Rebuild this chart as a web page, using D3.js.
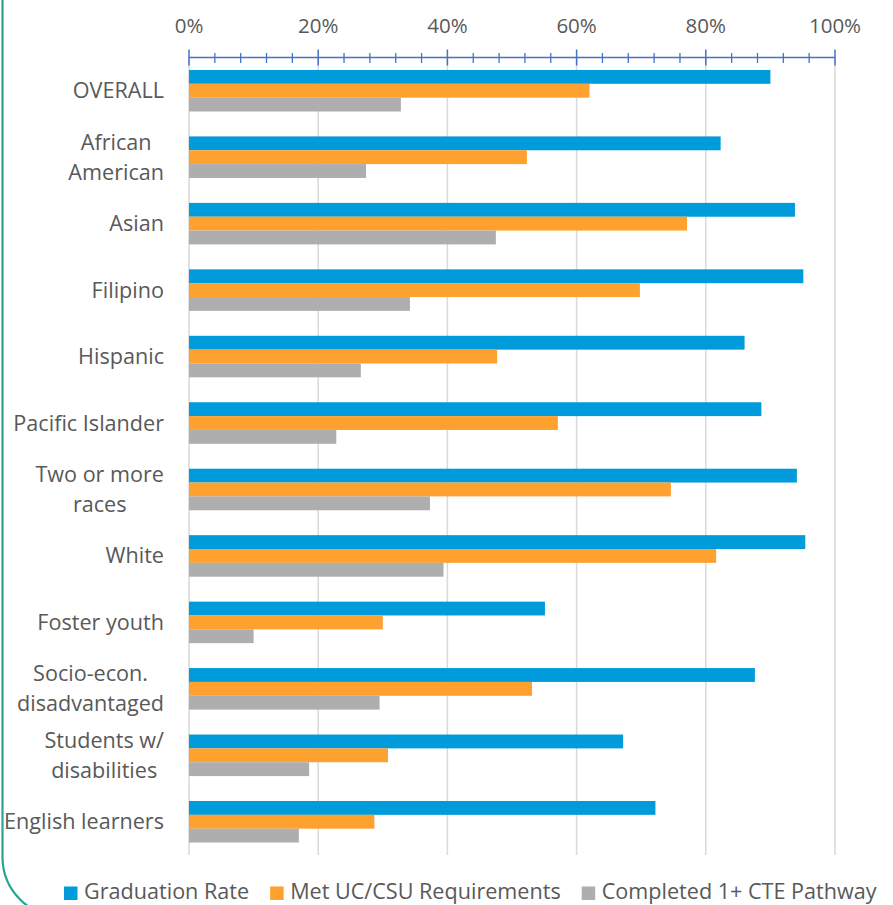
<!DOCTYPE html>
<html>
<head>
<meta charset="utf-8">
<script src="https://cdn.jsdelivr.net/npm/d3@7"></script>
<style>
  html, body { margin: 0; padding: 0; background: #fff; }
  svg { display: block; font-family: "Open Sans", "DejaVu Sans", sans-serif; }
</style>
</head>
<body>
<svg id="chart" width="893" height="905"></svg>
<script>
// ---- data ----
const categories = [
  ["OVERALL"],
  ["African", "American"],
  ["Asian"],
  ["Filipino"],
  ["Hispanic"],
  ["Pacific Islander"],
  ["Two or more", "races"],
  ["White"],
  ["Foster youth"],
  ["Socio-econ.", "disadvantaged"],
  ["Students w/", "disabilities"],
  ["English learners"]
];
const seriesNames = ["Graduation Rate", "Met UC/CSU Requirements", "Completed 1+ CTE Pathway"];
const graduationRate = [90.0, 82.3, 93.8, 95.1, 86.0, 88.6, 94.1, 95.4, 55.1, 87.6, 67.2, 72.2];
const metUCCSU       = [62.0, 52.3, 77.1, 69.8, 47.7, 57.1, 74.6, 81.6, 30.0, 53.1, 30.8, 28.7];
const completedCTE   = [32.8, 27.4, 47.5, 34.2, 26.6, 22.8, 37.3, 39.4, 10.0, 29.5, 18.6, 17.0];
const tickValues = [0, 20, 40, 60, 80, 100];
const minorTickValues = d3.range(0, 101, 4);
const colors = ["#009BDA", "#FFA12F", "#AEAEAE"];

const series = [graduationRate, metUCCSU, completedCTE];
const keys = categories.map(c => c.join(" "));

const svg = d3.select("#chart");

// teal frame on the left
svg.append("path")
  .attr("d", "M2.5,0 V857 A60,60 0 0 0 62.5,917")
  .attr("fill", "none")
  .attr("stroke", "#2AA394")
  .attr("stroke-width", 2.2);

const x = d3.scaleLinear().domain([0, 100]).range([189, 835]);
const y = d3.scaleBand().domain(keys).range([57.5, 855]).paddingInner(0.375).paddingOuter(0.1875);
const sub = d3.scaleBand().domain(d3.range(series.length)).range([0, y.bandwidth()]);

// gridlines
svg.append("g").selectAll("line")
  .data(tickValues)
  .join("line")
  .attr("x1", d => x(d)).attr("x2", d => x(d))
  .attr("y1", 57.5).attr("y2", 855)
  .attr("stroke", "#D9D9D9").attr("stroke-width", 1.5);

// bars
const groups = svg.append("g").selectAll("g")
  .data(keys)
  .join("g")
  .attr("transform", d => `translate(0,${y(d)})`);

groups.selectAll("rect")
  .data((d, i) => series.map((s, j) => ({ j, v: s[i] })))
  .join("rect")
  .attr("x", x(0))
  .attr("y", d => sub(d.j))
  .attr("width", d => x(d.v) - x(0))
  .attr("height", sub.bandwidth())
  .attr("fill", d => colors[d.j]);

// top axis
const axisG = svg.append("g").attr("transform", "translate(0,57.5)");
axisG.append("line")
  .attr("x1", x(0)).attr("x2", x(100))
  .attr("stroke", "#4472C4").attr("stroke-width", 1.5);
axisG.selectAll("line.minor")
  .data(minorTickValues.filter(v => v % 20 !== 0))
  .join("line").attr("class", "minor")
  .attr("x1", d => x(d)).attr("x2", d => x(d))
  .attr("y1", -4.5).attr("y2", 5.5)
  .attr("stroke", "#4472C4").attr("stroke-width", 1.3);
axisG.selectAll("line.major")
  .data(tickValues)
  .join("line").attr("class", "major")
  .attr("x1", d => x(d)).attr("x2", d => x(d))
  .attr("y1", -8).attr("y2", 8)
  .attr("stroke", "#4472C4").attr("stroke-width", 1.5);
axisG.selectAll("text")
  .data(tickValues)
  .join("text")
  .attr("x", d => x(d))
  .attr("y", -25)
  .attr("text-anchor", "middle")
  .attr("fill", "#595959")
  .attr("font-size", 20.5)
  .text(d => d + "%");

// category labels
const labelG = svg.append("g");
categories.forEach((lines, i) => {
  const cy = y(keys[i]) + y.bandwidth() / 2;
  const g = labelG.append("g");
  const texts = g.selectAll("text")
    .data(lines)
    .join("text")
    .attr("y", (d, k) => cy + (k - (lines.length - 1) / 2) * 30 + 7.5)
    .attr("fill", "#595959")
    .attr("font-size", 21.6)
    .attr("text-anchor", "middle")
    .text(d => d);
  const widths = texts.nodes().map(n => n.getComputedTextLength());
  const maxW = d3.max(widths);
  texts.attr("x", 164 - maxW / 2);
});

// legend
const legend = svg.append("g").attr("transform", "translate(0,893)");
let lx = 64;
seriesNames.forEach((name, j) => {
  legend.append("rect")
    .attr("x", lx).attr("y", -6.5)
    .attr("width", 13.5).attr("height", 13.5)
    .attr("fill", colors[j]);
  const t = legend.append("text")
    .attr("x", lx + 20).attr("y", 6)
    .attr("fill", "#595959")
    .attr("font-size", 21.6)
    .text(name);
  lx = lx + 20 + t.node().getComputedTextLength() + 21;
});
</script>
</body>
</html>
